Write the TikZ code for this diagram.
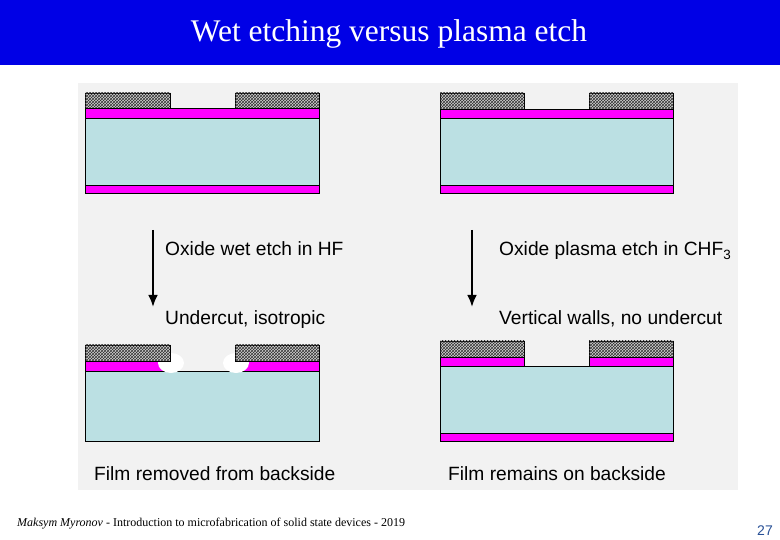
\documentclass[tikz,border=0pt]{standalone}
\usepackage{fontspec}
\setmainfont{Liberation Serif}
\newfontfamily\sansf{Liberation Sans}
\usetikzlibrary{patterns,arrows.meta}
\definecolor{mag}{RGB}{255,0,255}
\definecolor{subst}{RGB}{187,224,227}
\definecolor{titleblue}{RGB}{0,0,230}
\definecolor{panel}{RGB}{242,242,242}
\definecolor{pgnum}{RGB}{40,80,150}
\begin{document}
\begin{tikzpicture}[x=1pt,y=-1pt,
  mask/.style={draw=black,line width=0.8pt,fill=gray!35,postaction={pattern=crosshatch,pattern color=black!80}},
  film/.style={draw=black,line width=0.6pt,fill=mag},
  sub/.style={draw=black,line width=0.6pt,fill=subst},
  lbl/.style={font=\sansf\fontsize{19.2}{22}\selectfont,anchor=base west,inner sep=0pt},
  arr/.style={line width=2.6pt,-{Latex[length=12pt,width=10pt]}}]
\useasboundingbox (0,0) rectangle (780,540);
\fill[white] (0,0) rectangle (780,540);
\fill[titleblue] (0,0) rectangle (780,65);
\node[text=white,font=\fontsize{31.5}{33}\selectfont,anchor=base] (title) at (389,42) {Wet etching versus plasma etch};
\fill[panel] (78,83) rectangle (738,490);
% top-left
\draw[sub] (85,118) rectangle (319,185);
\draw[film] (85,108) rectangle (319,118);
\draw[film] (85,185) rectangle (319,193);
\draw[mask] (85,93) rectangle (170,108);
\draw[mask] (235,93) rectangle (319,108);
% top-right
\draw[sub] (440,118) rectangle (673,185);
\draw[film] (440,109) rectangle (673,118);
\draw[film] (440,185) rectangle (673,193);
\draw[mask] (440,93) rectangle (524,109);
\draw[mask] (589,93) rectangle (673,109);
% arrows and labels
\coordinate (a1) at (153,230); \coordinate (a2) at (153,307);
\coordinate (b1) at (472,230); \coordinate (b2) at (472,307);
\draw[arr] (a1) -- (a2);
\draw[arr] (b1) -- (b2);
\node[lbl] (l1) at (165,256) {Oxide wet etch in HF};
\node[lbl] (l2) at (165,325) {Undercut, isotropic};
\node[lbl] (r1) at (499,256) {Oxide plasma etch in CHF\textsubscript{3}};
\node[lbl] (r2) at (499,325) {Vertical walls, no undercut};
% bottom-left
\draw[sub] (85,371) rectangle (319,441);
\draw[film] (85,361) rectangle (165,371);
\draw[film] (240,361) rectangle (319,371);
\fill[white] (171,363) ellipse (13pt and 10pt);
\fill[white] (236,363) ellipse (13pt and 10pt);
\fill[panel] (184,350) rectangle (223,370.7);
\draw[line width=0.6pt] (180,371) -- (228,371);
\draw[mask] (85,345) rectangle (170,361);
\draw[mask] (235,345) rectangle (319,361);
% bottom-right
\draw[sub] (440,366) rectangle (673,433);
\draw[film] (440,357) rectangle (524,366);
\draw[film] (589,357) rectangle (673,366);
\draw[film] (440,433) rectangle (673,441);
\draw[mask] (440,341) rectangle (524,357);
\draw[mask] (589,341) rectangle (673,357);
\node[lbl] (f1) at (94,480) {Film removed from backside};
\node[lbl] (f2) at (448,480) {Film remains on backside};
% footer
\node[anchor=base west,inner sep=0pt,font=\itshape\fontsize{12}{13}\selectfont] (foot) at (17,526) {Maksym Myronov \textup{- Introduction to microfabrication of solid state devices - 2019}};
\node[anchor=base east,inner sep=0pt,text=pgnum,font=\sansf\fontsize{14}{16}\selectfont] (pg) at (773,535) {27};
\end{tikzpicture}
\end{document}
